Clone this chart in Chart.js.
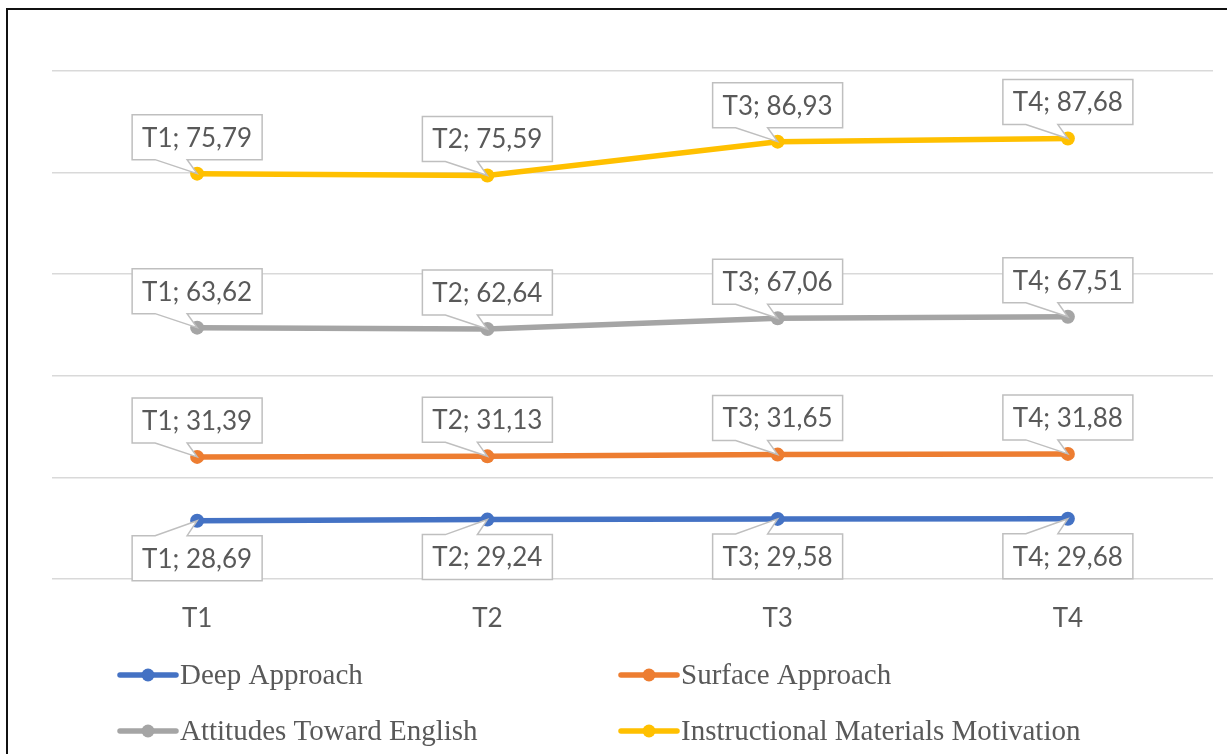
<!DOCTYPE html>
<html>
<head>
<meta charset="utf-8">
<script src="https://cdn.jsdelivr.net/npm/chart.js@4/dist/chart.umd.min.js"></script>
<style>
  html, body { margin: 0; padding: 0; background: #fff; }
  #wrap { position: relative; width: 1227px; height: 754px; overflow: hidden; }
  #frame {
    position: absolute; left: 6px; top: 8px; width: 1300px; height: 900px;
    border-left: 2px solid #111; border-top: 2px solid #111; pointer-events: none;
  }
</style>
</head>
<body>
<div id="wrap">
  <canvas id="chart"></canvas>
  <div id="frame"></div>
</div>
<script>
// data -----------------------------------------------------------
const categories = ['T1', 'T2', 'T3', 'T4']
const seriesNames = ['Deep Approach', 'Surface Approach', 'Attitudes Toward English', 'Instructional Materials Motivation']
const deepApproach = [28.69, 29.24, 29.58, 29.68]
const surfaceApproach = [31.39, 31.13, 31.65, 31.88]
const attitudesEnglish = [63.62, 62.64, 67.06, 67.51]
const materialsMotivation = [75.79, 75.59, 86.93, 87.68]
const yTicks = [0, 50, 100, 150, 200, 250]

const colors = ['#4472C4', '#ED7D31', '#A5A5A5', '#FFC000']
const allSeries = [deepApproach, surfaceApproach, attitudesEnglish, materialsMotivation]

const labelFont = '26px Lato'
const textColor = '#595959'

function fmt(v) {
  return v.toFixed(2).replace('.', ',')
}

// callout data labels (Deep below, the rest above)
const calloutPlugin = {
  id: 'callouts',
  afterDatasetsDraw(chart) {
    const ctx = chart.ctx
    ctx.save()
    ctx.font = labelFont
    ctx.textAlign = 'center'
    ctx.textBaseline = 'middle'
    chart.data.datasets.forEach((ds, i) => {
      const meta = chart.getDatasetMeta(i)
      meta.data.forEach((pt, j) => {
        const text = categories[j] + '; ' + fmt(ds.data[j])
        const w = Math.round(ctx.measureText(text).width + 20)
        const h = 45
        const px = pt.x, py = pt.y
        const L = px - w / 2, R = px + w / 2
        ctx.beginPath()
        if (i === 0) {
          const T = py + 15, B = T + h
          ctx.moveTo(L, T)
          ctx.lineTo(px - 42, T)
          ctx.lineTo(px, py)
          ctx.lineTo(px - 10, T)
          ctx.lineTo(R, T)
          ctx.lineTo(R, B)
          ctx.lineTo(L, B)
          ctx.closePath()
        } else {
          const B = py - 14, T = B - h
          ctx.moveTo(L, T)
          ctx.lineTo(R, T)
          ctx.lineTo(R, B)
          ctx.lineTo(px - 10, B)
          ctx.lineTo(px, py)
          ctx.lineTo(px - 42, B)
          ctx.lineTo(L, B)
          ctx.closePath()
        }
        ctx.fillStyle = '#fff'
        ctx.fill()
        ctx.lineWidth = 1.5
        ctx.strokeStyle = '#BFBFBF'
        ctx.stroke()
        ctx.fillStyle = textColor
        const cy = i === 0 ? py + 15 + h / 2 : py - 14 - h / 2
        ctx.fillText(text, px, cy + 1)
      })
    })
    ctx.restore()
  }
}

// two-column legend at the bottom
const legendPlugin = {
  id: 'twoColLegend',
  afterDraw(chart) {
    const ctx = chart.ctx
    const cols = [120, 621]
    const rows = [675, 731]
    ctx.save()
    ctx.font = '29px "Liberation Serif"'
    ctx.textBaseline = 'middle'
    ctx.textAlign = 'left'
    seriesNames.forEach((name, i) => {
      const x = cols[i % 2]
      const y = rows[Math.floor(i / 2)]
      ctx.strokeStyle = colors[i]
      ctx.lineWidth = 5.5
      ctx.lineCap = 'round'
      ctx.beginPath()
      ctx.moveTo(x, y)
      ctx.lineTo(x + 56, y)
      ctx.stroke()
      ctx.fillStyle = colors[i]
      ctx.beginPath()
      ctx.arc(x + 28, y, 6.5, 0, Math.PI * 2)
      ctx.fill()
      ctx.fillStyle = textColor
      ctx.fillText(name, x + 60, y + 1)
    })
    ctx.restore()
  }
}

new Chart(document.getElementById('chart'), {
  type: 'line',
  data: {
    labels: categories,
    datasets: allSeries.map((vals, i) => ({
      label: seriesNames[i],
      data: vals,
      borderColor: colors[i],
      backgroundColor: colors[i],
      borderWidth: 5.5,
      borderCapStyle: 'round',
      pointRadius: 7,
      pointBorderWidth: 0,
      pointBackgroundColor: colors[i],
      tension: 0,
      fill: false
    }))
  },
  options: {
    responsive: true,
    maintainAspectRatio: false,
    animation: false,
    layout: { padding: { left: 52, right: 14, top: 71, bottom: 0 } },
    plugins: {
      legend: { display: false },
      tooltip: { enabled: false }
    },
    scales: {
      x: {
        offset: true,
        grid: { display: false, drawTicks: false },
        border: { display: false },
        ticks: { color: textColor, font: { family: 'Lato', size: 26 }, padding: 24 },
        afterFit(scale) { scale.height = 175 }
      },
      y: {
        stacked: true,
        min: yTicks[0],
        max: yTicks[yTicks.length - 1],
        afterBuildTicks(scale) { scale.ticks = yTicks.map(v => ({ value: v })) },
        ticks: { display: false },
        grid: { color: '#D9D9D9', lineWidth: 1.5, drawTicks: false },
        border: { display: false },
        afterFit(scale) { scale.width = 0 }
      }
    }
  },
  plugins: [calloutPlugin, legendPlugin]
})
</script>
</body>
</html>
